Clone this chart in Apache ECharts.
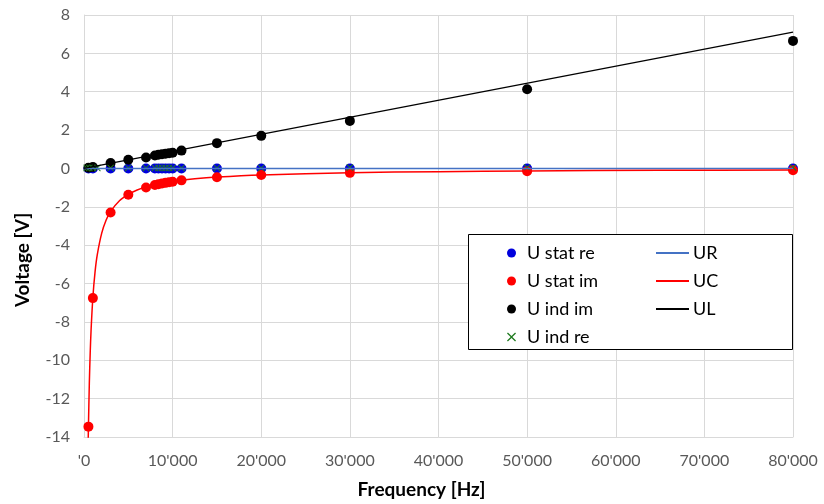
<!DOCTYPE html>
<html lang="en">
<head>
	<meta charset="UTF-8">
	<title>Voltage vs Frequency</title>
	<style>
		html, body { margin: 0; padding: 0; background: #fff; }
		#main { width: 824px; height: 504px; }
	</style>
</head>
<body>
	<div id="main"></div>
<script type="text/javascript" src="https://cdn.jsdelivr.net/npm/echarts@6/dist/echarts.min.js"></script>
<script type="text/javascript">
        // measured frequencies [Hz]
        var measFreq = [500, 1000, 3000, 5000, 7000, 8000, 8400, 8800, 9200, 9600, 10000, 11000, 15000, 20000, 30000, 50000, 80000];
        var uStatRe = [0, 0, 0, 0, 0, 0, 0, 0, 0, 0, 0, 0, 0, 0, 0, 0, 0];
        var uStatIm = [-13.46, -6.76, -2.30, -1.37, -0.99, -0.86, -0.82, -0.78, -0.75, -0.72, -0.69, -0.62, -0.46, -0.34, -0.23, -0.14, -0.09];
        var uIndIm = [0.04, 0.08, 0.28, 0.45, 0.57, 0.68, 0.71, 0.74, 0.77, 0.79, 0.82, 0.93, 1.32, 1.70, 2.48, 4.13, 6.65];
        var indReFreq = [300, 600, 1000, 1500, 3000, 5000, 7000, 8000, 8400, 8800, 9200, 9600, 10000, 11000, 15000, 20000, 30000, 50000, 80000];
        var uIndRe = [0.03, 0.03, 0.03, 0.03, 0.03, 0.03, 0.03, 0.03, 0.03, 0.03, 0.03, 0.03, 0.03, 0.03, 0.03, 0.03, 0.05, 0.05, 0.05];

        // model curves
        var urFreq = [0, 80000];
        var urVal = [0, 0];
        var ucFreq = [470, 500, 600, 700, 800, 1000, 1250, 1500, 2000, 2500, 3000, 4000, 5000, 6000, 7000, 8500, 10000, 12500, 15000, 20000, 30000, 40000, 50000, 65000, 80000];
        var ucVal = [-14.32, -13.46, -11.22, -9.61, -8.41, -6.73, -5.38, -4.49, -3.37, -2.69, -2.24, -1.68, -1.35, -1.12, -0.96, -0.79, -0.67, -0.54, -0.45, -0.34, -0.22, -0.17, -0.13, -0.10, -0.08];
        var ulFreq = [0, 80000];
        var ulVal = [0, 7.11];

        var xTicks = { min: 0, max: 80000, step: 10000 };
        var yTicks = { min: -14, max: 8, step: 2 };

        // pair x and y arrays
        function pairs(xs, ys){
            var out = [];
            for (var i = 0; i < xs.length; i++) {
                out.push([xs[i], ys[i]]);
            }
            return out;
        }

        // 10000 -> 10'000, 0 -> '0
        function swissFormat(v){
            if (v === 0) return "'0";
            return String(v).replace(/\B(?=(\d{3})+(?!\d))/g, "'");
        }

        var crossPath = 'path://M0,1 L1,0 L5,4 L9,0 L10,1 L6,5 L10,9 L9,10 L5,6 L1,10 L0,9 L4,5 Z';
        var fontFam = 'Lato, "Open Sans", sans-serif';

        var myChart = echarts.init(document.getElementById('main'));
        var option = {
            animation: false,
            textStyle: { fontFamily: fontFam },
            grid: { left: 84, right: 31, top: 15, bottom: 67 },
            xAxis: {
                type: 'value',
                min: xTicks.min, max: xTicks.max, interval: xTicks.step,
                name: 'Frequency [Hz]',
                nameLocation: 'middle',
                nameGap: 43,
                nameTextStyle: { fontSize: 19, fontWeight: 'bold', color: '#000', padding: [0, 34, 0, 0] },
                axisLine: { show: true, onZero: false, lineStyle: { color: '#d9d9d9' } },
                axisTick: { show: false },
                axisLabel: { fontSize: 16, color: '#595959', margin: 16, formatter: swissFormat },
                splitLine: { show: true, lineStyle: { color: '#d9d9d9', width: 1 } }
            },
            yAxis: {
                type: 'value',
                min: yTicks.min, max: yTicks.max, interval: yTicks.step,
                name: 'Voltage [V]',
                nameLocation: 'middle',
                nameGap: 52,
                nameTextStyle: { fontSize: 19, fontWeight: 'bold', color: '#000', padding: [0, 68, 0, 0] },
                axisLine: { show: true, onZero: false, lineStyle: { color: '#d9d9d9' } },
                axisTick: { show: false },
                axisLabel: { fontSize: 16, color: '#595959', margin: 14 },
                splitLine: { show: true, lineStyle: { color: '#d9d9d9', width: 1 } }
            },
            graphic: [{
                type: 'rect',
                left: 468, top: 234,
                shape: { width: 324, height: 115 },
                style: { fill: '#fff', stroke: '#000', lineWidth: 1 },
                z: 5
            }],
            legend: [{
                orient: 'vertical',
                left: 502, top: 239,
                itemWidth: 9, itemHeight: 9,
                itemGap: 10,
                textStyle: { fontSize: 18, color: '#000', padding: [0, 0, 0, 6], lineHeight: 18 },
                data: [
                    { name: 'U stat re', icon: 'circle' },
                    { name: 'U stat im', icon: 'circle' },
                    { name: 'U ind im', icon: 'circle' },
                    { name: 'U ind re', icon: crossPath }
                ],
                z: 6
            }, {
                orient: 'vertical',
                left: 651, top: 239,
                itemWidth: 33, itemHeight: 2,
                itemGap: 10,
                textStyle: { fontSize: 18, color: '#000', padding: [0, 0, 0, -1], lineHeight: 18 },
                data: [
                    { name: 'UR', icon: 'rect' },
                    { name: 'UC', icon: 'rect' },
                    { name: 'UL', icon: 'rect' }
                ],
                z: 6
            }],
            series: [{
                name: 'UR', type: 'line',
                data: pairs(urFreq, urVal),
                symbol: 'none',
                color: '#4472c4',
                lineStyle: { width: 1.5, color: '#4472c4' }
            }, {
                name: 'UC', type: 'line',
                data: pairs(ucFreq, ucVal),
                symbol: 'none', smooth: 0.3,
                color: '#ff0000',
                lineStyle: { width: 1.5, color: '#ff0000' }
            }, {
                name: 'UL', type: 'line',
                data: pairs(ulFreq, ulVal),
                symbol: 'none',
                color: '#000',
                lineStyle: { width: 1.2, color: '#000' }
            }, {
                name: 'U stat re', type: 'scatter',
                data: pairs(measFreq, uStatRe),
                symbol: 'circle', symbolSize: 10,
                itemStyle: { color: '#0000dd', opacity: 1 }
            }, {
                name: 'U stat im', type: 'scatter',
                data: pairs(measFreq, uStatIm),
                symbol: 'circle', symbolSize: 10,
                itemStyle: { color: '#ff0000', opacity: 1 }
            }, {
                name: 'U ind im', type: 'scatter',
                data: pairs(measFreq, uIndIm),
                symbol: 'circle', symbolSize: 10,
                itemStyle: { color: '#000', opacity: 1 }
            }, {
                name: 'U ind re', type: 'scatter',
                data: pairs(indReFreq, uIndRe),
                symbol: crossPath, symbolSize: 7,
                itemStyle: { color: '#1e7a1e', opacity: 1 }
            }]
        };
        myChart.setOption(option);
</script>
</body>
</html>
